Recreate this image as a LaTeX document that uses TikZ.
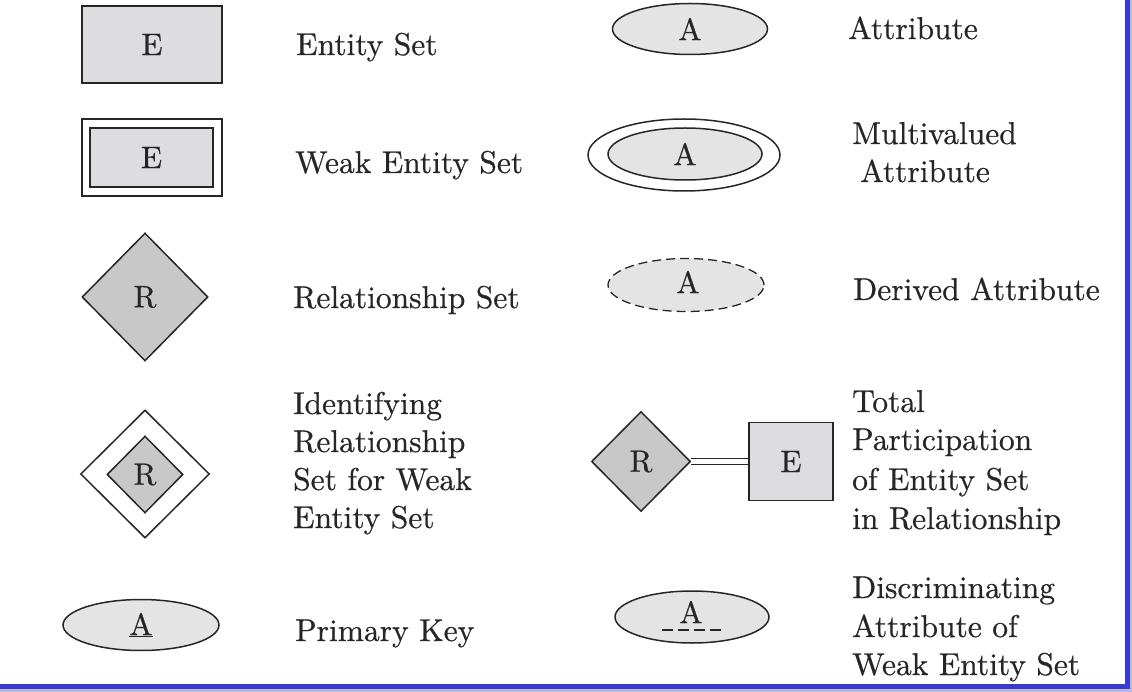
\documentclass[tikz,border=0pt]{standalone}
\usepackage{fontspec}
\setmainfont{lmroman10-regular.otf}
\newfontfamily\erfont{lmroman10-regular.otf}[FakeBold=0.6]
\usetikzlibrary{shapes.geometric}
\definecolor{entfill}{RGB}{221,221,224}
\definecolor{relfill}{RGB}{200,200,200}
\definecolor{attfill}{RGB}{228,228,228}
\definecolor{ink}{RGB}{38,38,38}
\definecolor{frameblue}{RGB}{58,58,205}
\definecolor{framelight}{RGB}{185,185,225}
\begin{document}
\begin{tikzpicture}[x=1pt,y=-1pt,
  shp/.style={draw=ink, line width=1.5pt, inner sep=0pt, text=ink, font=\erfont\fontsize{31}{33}\selectfont},
  entbox/.style={shp, rectangle, fill=entfill},
  relbox/.style={shp, diamond, fill=relfill},
  attbox/.style={shp, ellipse, fill=attfill},
  lbl/.style={anchor=base west, inner sep=0pt, text=ink, font=\erfont\fontsize{31.5}{38}\selectfont},
  dblline/.style={draw=ink, line width=1.3pt, double=white, double distance=4.5pt},
  dashu/.style={draw=ink, line width=1.3pt, dash pattern=on 11pt off 5pt}
]
\useasboundingbox (0,0) rectangle (1132,692);
\draw[framelight, line width=3pt] (-20,-20) rectangle (1130.5,690.5);
\draw[frameblue, line width=5pt] (-20,-20) rectangle (1127.5,686);

% left column symbols
\node[entbox, minimum width=140pt, minimum height=77pt] (ent) at (152,44.5) {E};
\node[shp, rectangle, fill=white, minimum width=140pt, minimum height=77pt] (weakout) at (152,157.5) {};
\node[entbox, minimum width=123pt, minimum height=59pt] (weakin) at (151.5,157.5) {E};
\node[relbox, minimum width=126pt, minimum height=128pt] (rel) at (145,297) {R};
\node[shp, diamond, fill=white, minimum width=129pt, minimum height=128pt] (idout) at (145,474) {};
\node[relbox, minimum width=76pt, minimum height=77pt] (idin) at (145,474.5) {R};
\node[attbox, minimum width=156pt, minimum height=51pt] (pk) at (141,625) {\underline{A}};

% right column symbols
\node[attbox, minimum width=155pt, minimum height=51pt] (att) at (690,29) {A};
\node[shp, ellipse, fill=white, minimum width=192pt, minimum height=72pt] (mvout) at (684,155) {};
\node[attbox, minimum width=154pt, minimum height=52pt] (mvin) at (685,154) {A};
\node[attbox, line width=1.3pt, dash pattern=on 9pt off 5pt, minimum width=156pt, minimum height=53pt] (der) at (686,285) {};
\node[shp, draw=none] (derA) at (688,282) {A};
\node[relbox, minimum width=99pt, minimum height=100pt] (trel) at (641,461.5) {R};
\node[entbox, minimum width=84pt, minimum height=78pt] (tent) at (791,461.5) {E};
\draw[dblline] (trel.east) -- (tent.west);
\node[attbox, minimum width=154pt, minimum height=52pt] (disc) at (692,617) {};
\node[shp, draw=none] (discA) at (691,612) {A};
\coordinate (du1) at (662,630);
\coordinate (du2) at (723,630);
\draw[dashu] (du1) -- (du2);

% left labels
\node[lbl] (l1) at (296,55) {Entity Set};
\node[lbl] (l2) at (295,173) {Weak Entity Set};
\node[lbl] (l3) at (293,308) {Relationship Set};
\node[lbl] (l4a) at (293,414) {Identifying};
\node[lbl] (l4b) at (293,452) {Relationship};
\node[lbl] (l4c) at (293,490) {Set for Weak};
\node[lbl] (l4d) at (293,528) {Entity Set};
\node[lbl] (l5) at (295,641) {Primary Key};

% right labels
\node[lbl] (r1) at (848,39) {Attribute};
\node[lbl] (r2a) at (852,144) {Multivalued};
\node[lbl] (r2b) at (860,182) {Attribute};
\node[lbl] (r3) at (853,300) {Derived Attribute};
\node[lbl] (r4a) at (852,412) {Total};
\node[lbl] (r4b) at (852,450) {Participation};
\node[lbl] (r4c) at (852,490) {of Entity Set};
\node[lbl] (r4d) at (852,529) {in Relationship};
\node[lbl] (r5a) at (852,598) {Discriminating};
\node[lbl] (r5b) at (852,637) {Attribute of};
\node[lbl] (r5c) at (852,675) {Weak Entity Set};
\end{tikzpicture}
\end{document}
